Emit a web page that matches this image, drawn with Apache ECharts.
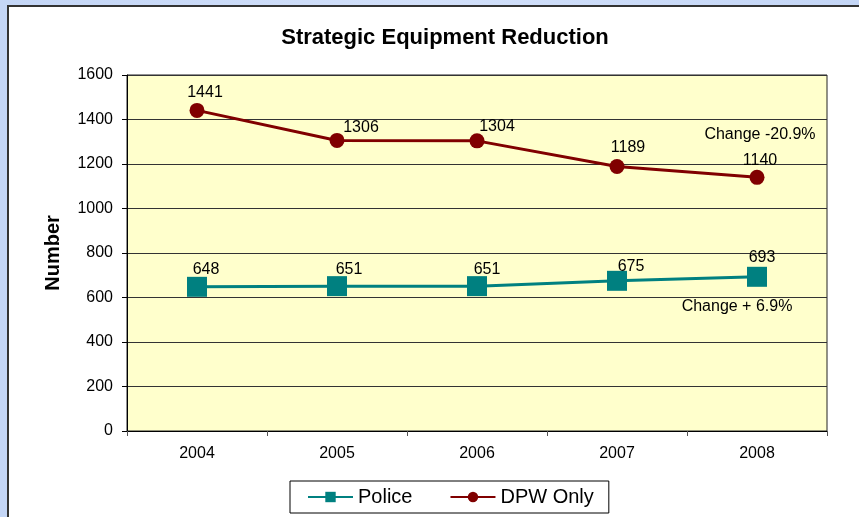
<!DOCTYPE html>
<html>
<head>
<meta charset="utf-8">
<script src="https://cdn.jsdelivr.net/npm/echarts@6/dist/echarts.min.js"></script>
<style>
  html, body { margin: 0; padding: 0; }
  #wrap {
    width: 859px; height: 517px; position: relative; overflow: hidden;
    background: linear-gradient(90deg, #c4d6f6, #d2e0fa 50%, #c4d6f6);
  }
  #chart {
    position: absolute; left: 7px; top: 5px; width: 870px; height: 530px;
    background: #fff; border-left: 2px solid #333; border-top: 2px solid #333;
  }
</style>
</head>
<body>
<div id="wrap"><div id="chart"></div></div>
<script>
var years = ['2004', '2005', '2006', '2007', '2008'];
var police = [648, 651, 651, 675, 693];
var dpw = [1441, 1306, 1304, 1189, 1140];
var policeNote = 'Change + 6.9%';
var dpwNote = 'Change -20.9%';
// label nudges (px) so the value labels sit where they are in the original
var policeLabelShift = [[9, -17], [12, -17], [10, -17], [14, -14], [5, -19]];
var dpwLabelShift = [[8, -18], [24, -13], [20, -14], [11, -19], [3, -17]];

var FONT = 'Liberation Sans, Arial, sans-serif';
var txt = { color: '#000', fontFamily: FONT, fontSize: 16 };

function withLabels(values, shifts) {
    return values.map(function (v, i) {
        return { value: v, label: { offset: shifts[i] } };
    });
}

var myChart = echarts.init(document.getElementById('chart'));

var option = {
    animation: false,
    textStyle: { fontFamily: FONT },
    title: {
        text: 'Strategic Equipment Reduction',
        left: 431, top: 15, textAlign: 'center',
        textStyle: { fontSize: 22, fontWeight: 'bold', color: '#000', fontFamily: FONT }
    },
    legend: {
        left: 281, top: 474,
        padding: [6, 15, 6, 17],
        itemGap: 37, itemWidth: 45, itemHeight: 13,
        borderColor: '#000', borderWidth: 1, backgroundColor: '#fff',
        textStyle: { fontSize: 20, color: '#000', fontFamily: FONT },
        data: ['Police', 'DPW Only']
    },
    grid: {
        left: 118, top: 68, width: 700, height: 356,
        show: true, backgroundColor: '#ffffcc', borderColor: '#222', borderWidth: 1
    },
    xAxis: {
        type: 'category', data: years, boundaryGap: true,
        axisLine: { lineStyle: { color: '#000' } },
        axisTick: { show: true, length: 5, lineStyle: { color: '#555' } },
        axisLabel: Object.assign({ margin: 15 }, txt)
    },
    yAxis: {
        type: 'value', min: 0, max: 1600, interval: 200,
        name: 'Number', nameLocation: 'middle', nameGap: 64, nameRotate: 90,
        nameTextStyle: { fontSize: 20, fontWeight: 'bold', color: '#000', fontFamily: FONT },
        axisLine: { show: true, lineStyle: { color: '#000' } },
        axisTick: { show: true, length: 5, lineStyle: { color: '#000' } },
        axisLabel: Object.assign({ margin: 14, formatter: function (v) { return String(v); } }, txt),
        splitLine: { lineStyle: { color: '#333', width: 1 } }
    },
    series: [
        {
            name: 'Police', type: 'line', data: withLabels(police, policeLabelShift),
            symbol: 'rect', symbolSize: 20,
            itemStyle: { color: '#008080' },
            lineStyle: { color: '#008080', width: 3 },
            label: Object.assign({ show: true, position: 'inside' }, txt)
        },
        {
            name: 'DPW Only', type: 'line', data: withLabels(dpw, dpwLabelShift),
            symbol: 'circle', symbolSize: 15,
            itemStyle: { color: '#800000' },
            lineStyle: { color: '#800000', width: 3 },
            label: Object.assign({ show: true, position: 'inside' }, txt)
        }
    ],
    graphic: [
        { type: 'text', x: 751, y: 128, style: { text: dpwNote, fill: '#000', font: '16px ' + FONT, textAlign: 'center', textVerticalAlign: 'middle' } },
        { type: 'text', x: 728, y: 300, style: { text: policeNote, fill: '#000', font: '16px ' + FONT, textAlign: 'center', textVerticalAlign: 'middle' } }
    ]
};
myChart.setOption(option);
</script>
</body>
</html>
